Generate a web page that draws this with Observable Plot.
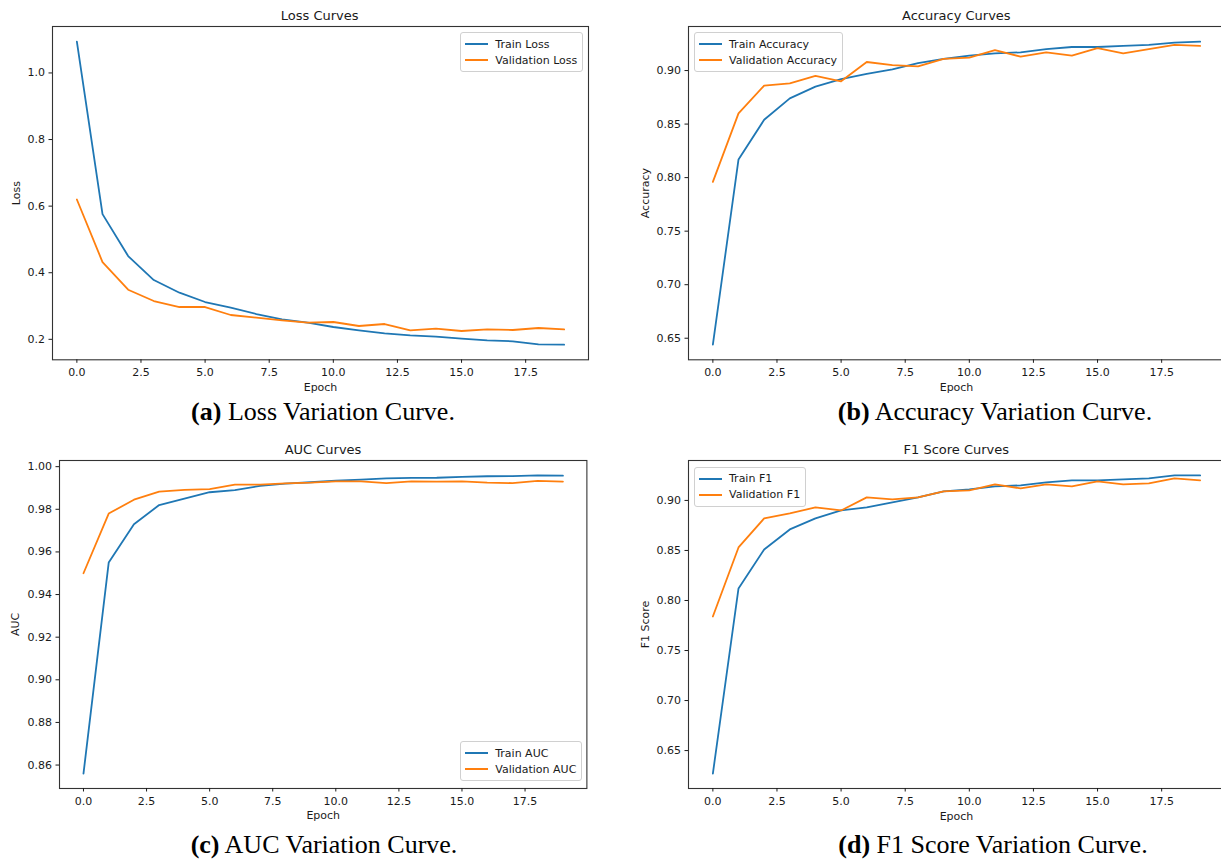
<!DOCTYPE html>
<html>
<head>
<meta charset="utf-8">
<script src="https://cdn.jsdelivr.net/npm/d3@7"></script>
<script src="https://cdn.jsdelivr.net/npm/@observablehq/plot@0.6"></script>
<style>
  html, body { margin: 0; padding: 0; background: #fff; overflow: hidden; }
  #root { position: relative; width: 1221px; height: 861px; overflow: hidden; background: #fff; }
  .panel { position: absolute; }
  .title { position: absolute; transform: translate(-50%, -50%); font-family: "DejaVu Sans"; font-size: 13px; color: #1a1a1a; white-space: nowrap; }
  .caption { position: absolute; transform: translate(-50%, -50%); font-family: "Liberation Serif", "Times New Roman", serif; font-size: 26px; color: #000; white-space: nowrap; }
  .caption b { font-weight: bold; }
  .legend { position: absolute; border: 1px solid #d0d0d0; border-radius: 3px; background: rgba(255,255,255,0.85); font-family: "DejaVu Sans"; font-size: 11px; color: #1a1a1a; box-sizing: border-box; padding: 3px 5px 3px 4px; }
  .legend .row { display: flex; align-items: center; height: 16px; white-space: nowrap; }
  .legend .sw { display: block; width: 23px; height: 2px; margin-right: 7px; }
</style>
</head>
<body>
<div id="root"></div>
<script>
// ---- data ----
const epochs = [0, 1, 2, 3, 4, 5, 6, 7, 8, 9, 10, 11, 12, 13, 14, 15, 16, 17, 18, 19];
const xTicks = [0, 2.5, 5, 7.5, 10, 12.5, 15, 17.5];

const trainLoss = [1.094, 0.576, 0.450, 0.378, 0.340, 0.312, 0.295, 0.276, 0.260, 0.250, 0.237, 0.227, 0.218, 0.212, 0.208, 0.202, 0.197, 0.194, 0.185, 0.184];
const valLoss   = [0.620, 0.432, 0.349, 0.315, 0.297, 0.297, 0.273, 0.265, 0.257, 0.250, 0.252, 0.240, 0.246, 0.227, 0.232, 0.225, 0.230, 0.228, 0.234, 0.230];
const lossTicks = [0.2, 0.4, 0.6, 0.8, 1.0];

const trainAcc = [0.644, 0.817, 0.854, 0.874, 0.885, 0.892, 0.897, 0.901, 0.907, 0.911, 0.914, 0.916, 0.917, 0.920, 0.922, 0.922, 0.923, 0.924, 0.926, 0.927];
const valAcc   = [0.796, 0.860, 0.886, 0.888, 0.895, 0.890, 0.908, 0.905, 0.904, 0.911, 0.912, 0.919, 0.913, 0.917, 0.914, 0.921, 0.916, 0.920, 0.924, 0.923];
const accTicks = [0.65, 0.70, 0.75, 0.80, 0.85, 0.90];

const trainAUC = [0.856, 0.955, 0.973, 0.982, 0.985, 0.988, 0.989, 0.991, 0.992, 0.9927, 0.9934, 0.9939, 0.9945, 0.9947, 0.9948, 0.9952, 0.9955, 0.9956, 0.9959, 0.9958];
const valAUC   = [0.950, 0.978, 0.9845, 0.9883, 0.9891, 0.9895, 0.9916, 0.9916, 0.9922, 0.9925, 0.9931, 0.9931, 0.9923, 0.9931, 0.9930, 0.9931, 0.9925, 0.9923, 0.9933, 0.9930];
const aucTicks = [0.86, 0.88, 0.90, 0.92, 0.94, 0.96, 0.98, 1.00];

const trainF1 = [0.627, 0.812, 0.851, 0.871, 0.882, 0.890, 0.893, 0.898, 0.903, 0.909, 0.911, 0.914, 0.915, 0.918, 0.920, 0.920, 0.921, 0.922, 0.925, 0.925];
const valF1   = [0.784, 0.853, 0.882, 0.887, 0.893, 0.890, 0.903, 0.901, 0.903, 0.909, 0.910, 0.916, 0.912, 0.916, 0.914, 0.919, 0.916, 0.917, 0.922, 0.920];
const f1Ticks = [0.65, 0.70, 0.75, 0.80, 0.85, 0.90];

const panels = [
  { title: "Loss Curves", yLabel: "Loss", train: trainLoss, val: valLoss, yTicks: lossTicks, yFmt: ".1f",
    names: ["Train Loss", "Validation Loss"], caption: ["(a)", " Loss Variation Curve."],
    frame: { l: 51.7, t: 25.7, r: 587.7, b: 359 }, yLabelX: 11, legend: "ur", capX: 323, capY: 412 },
  { title: "Accuracy Curves", yLabel: "Accuracy", train: trainAcc, val: valAcc, yTicks: accTicks, yFmt: ".2f",
    names: ["Train Accuracy", "Validation Accuracy"], caption: ["(b)", " Accuracy Variation Curve."],
    frame: { l: 688.3, t: 25.7, r: 1224.3, b: 359 }, yLabelX: 641, legend: "ul", capX: 995, capY: 412 },
  { title: "AUC Curves", yLabel: "AUC", train: trainAUC, val: valAUC, yTicks: aucTicks, yFmt: ".2f",
    names: ["Train AUC", "Validation AUC"], caption: ["(c)", " AUC Variation Curve."],
    frame: { l: 59.3, t: 460, r: 586.7, b: 788 }, yLabelX: 11, legend: "lr", capX: 324, capY: 845 },
  { title: "F1 Score Curves", yLabel: "F1 Score", train: trainF1, val: valF1, yTicks: f1Ticks, yFmt: ".2f",
    names: ["Train F1", "Validation F1"], caption: ["(d)", " F1 Score Variation Curve."],
    frame: { l: 688.3, t: 460, r: 1224.3, b: 788 }, yLabelX: 641, legend: "ul", capX: 993, capY: 845 }
];

const blue = "#1f77b4", orange = "#ff7f0e";
const root = document.getElementById("root");

for (const p of panels) {
  const f = p.frame;
  const mL = 70, mR = 6, mT = 6, mB = 40;
  const fw = f.r - f.l, fh = f.b - f.t;
  const [lo, hi] = d3.extent(p.train.concat(p.val));
  const pad = (hi - lo) * 0.05;
  const table = epochs.map((e, i) => ({ epoch: e, train: p.train[i], val: p.val[i] }));

  const chart = Plot.plot({
    width: fw + mL + mR,
    height: fh + mT + mB,
    marginLeft: mL, marginRight: mR, marginTop: mT, marginBottom: mB,
    style: { fontFamily: "DejaVu Sans", fontSize: "11px", color: "#1a1a1a", background: "transparent", overflow: "visible" },
    x: { domain: [-0.95, 19.95] },
    y: { domain: [lo - pad, hi + pad] },
    marks: [
      Plot.line(table, { x: "epoch", y: "train", stroke: blue, strokeWidth: 1.8 }),
      Plot.line(table, { x: "epoch", y: "val", stroke: orange, strokeWidth: 1.8 }),
      Plot.frame({ stroke: "#333", strokeWidth: 1.1 }),
      Plot.axisX({ ticks: xTicks, tickFormat: d3.format(".1f"), tickSize: 3.5, tickPadding: 5,
        label: "Epoch", labelAnchor: "center", labelArrow: "none", labelOffset: 31 }),
      Plot.axisY({ ticks: p.yTicks, tickFormat: d3.format(p.yFmt), tickSize: 3.5, tickPadding: 4,
        label: p.yLabel, labelAnchor: "center", labelArrow: "none", labelOffset: f.l - p.yLabelX })
    ]
  });
  chart.classList.add("panel");
  chart.style.left = (f.l - mL) + "px";
  chart.style.top = (f.t - mT) + "px";
  root.appendChild(chart);

  const t = document.createElement("div");
  t.className = "title";
  t.textContent = p.title;
  t.style.left = ((f.l + f.r) / 2) + "px";
  t.style.top = (f.t - 11) + "px";
  root.appendChild(t);

  const c = document.createElement("div");
  c.className = "caption";
  const b = document.createElement("b");
  b.textContent = p.caption[0];
  c.appendChild(b);
  c.appendChild(document.createTextNode(p.caption[1]));
  c.style.left = p.capX + "px";
  c.style.top = p.capY + "px";
  root.appendChild(c);

  const lg = document.createElement("div");
  lg.className = "legend";
  p.names.forEach((n, i) => {
    const row = document.createElement("div");
    row.className = "row";
    const sw = document.createElement("span");
    sw.className = "sw";
    sw.style.background = i === 0 ? blue : orange;
    row.appendChild(sw);
    row.appendChild(document.createTextNode(n));
    lg.appendChild(row);
  });
  if (p.legend === "ur") { lg.style.right = (1221 - f.r + 4.4) + "px"; lg.style.top = (f.t + 6.6) + "px"; }
  if (p.legend === "ul") { lg.style.left = (f.l + 5.7) + "px"; lg.style.top = (f.t + 6.6) + "px"; }
  if (p.legend === "lr") { lg.style.right = (1221 - f.r + 4.4) + "px"; lg.style.bottom = (861 - f.b + 6.6) + "px"; }
  root.appendChild(lg);
}
</script>
</body>
</html>
